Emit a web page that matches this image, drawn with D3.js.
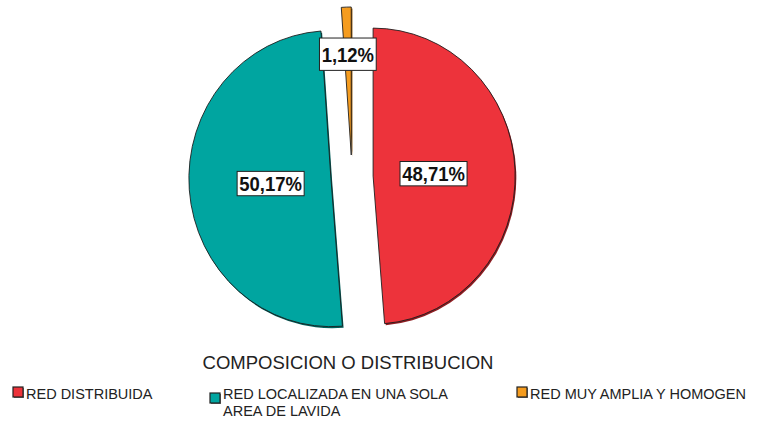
<!DOCTYPE html>
<html>
<head>
<meta charset="utf-8">
<script src="https://cdn.jsdelivr.net/npm/d3@7"></script>
<style>
  body { margin: 0; background: #fff; }
  svg { display: block; }
</style>
</head>
<body>
<div id="chart"></div>
<script>
(function () {

  // data
  const categories = ["RED DISTRIBUIDA", "RED LOCALIZADA EN UNA SOLA AREA DE LAVIDA", "RED MUY AMPLIA Y HOMOGEN"];
  const legendLines = [["RED DISTRIBUIDA"], ["RED LOCALIZADA EN UNA SOLA", "AREA DE LAVIDA"], ["RED MUY AMPLIA Y HOMOGEN"]];
  const percents = [48.71, 50.17, 1.12];
  const colors = ["#ED333B", "#00A5A0", "#F59C1F"];
  const shadows = ["#8E1C21", "#005E5A", "#8A5510"];
  const legendTitle = "COMPOSICION O DISTRIBUCION";

  const width = 757;
  const height = 421;
  const cx = 352, cy = 177;
  const radius = 148;
  const squeezeX = 0.96;
  const explode = 22;
  const condense = 0.88;

  const textFont = '"Liberation Sans", Arial, sans-serif';

  const data = categories.map((c, i) => ({label: c, value: percents[i], i: i}));

  const svg = d3.select("#chart").append("svg")
    .attr("width", width)
    .attr("height", height);

  const pie = d3.pie().value(d => d.value).sort(null);
  const arc = d3.arc().innerRadius(0).outerRadius(radius);
  const arcs = pie(data);

  const mid = d => (d.startAngle + d.endAngle) / 2;

  const pieG = svg.append("g")
    .attr("transform", "translate(" + cx + "," + cy + ") scale(" + squeezeX + ",1)");

  const slice = pieG.selectAll("g.slice")
    .data(arcs)
    .enter().append("g")
    .attr("class", "slice")
    .attr("transform", d => "translate(" + (Math.sin(mid(d)) * explode) + "," + (-Math.cos(mid(d)) * explode) + ")");

  // darker rim shadow
  slice.append("path")
    .attr("d", arc)
    .attr("transform", "translate(1.2,1.6)")
    .attr("fill", d => shadows[d.data.i]);

  slice.append("path")
    .attr("d", arc)
    .attr("fill", d => colors[d.data.i])
    .attr("stroke", "#1b1b1b")
    .attr("stroke-width", 0.9)
    .attr("stroke-linejoin", "round");

  // value labels
  const fmt = v => v.toFixed(2).replace(".", ",") + "%";
  const labelDist = d => explode + (d.data.value < 5 ? 101 : 63);

  const lab = svg.selectAll("g.lab")
    .data(arcs)
    .enter().append("g")
    .attr("class", "lab")
    .attr("transform", d => {
      const r = labelDist(d);
      return "translate(" + (cx + Math.sin(mid(d)) * r * squeezeX) + "," + (cy - Math.cos(mid(d)) * r) + ")";
    });

  const labText = lab.append("g")
    .attr("transform", "scale(" + condense + ",1)")
    .append("text")
    .attr("text-anchor", "middle")
    .attr("dy", "0.36em")
    .style("font-family", textFont)
    .style("font-weight", "bold")
    .style("font-size", "21px")
    .style("fill", "#111")
    .text(d => fmt(d.data.value));

  labText.each(function (d) {
    const bb = this.getBBox();
    const padY = d.data.value < 5 ? 4.5 : 0.5;
    const w = bb.width * condense;
    d3.select(this.parentNode.parentNode).insert("rect", "g")
      .attr("x", -w / 2 - 2)
      .attr("y", bb.y - padY)
      .attr("width", w + 4)
      .attr("height", bb.height + padY * 2)
      .attr("fill", "#fff")
      .attr("stroke", "#222")
      .attr("stroke-width", 1);
  });

  // legend
  svg.append("text")
    .attr("x", 348)
    .attr("y", 369)
    .attr("text-anchor", "middle")
    .style("font-family", textFont)
    .style("font-size", "18.5px")
    .style("fill", "#222")
    .text(legendTitle);

  const legendX = [13, 210, 517];
  const legend = svg.selectAll("g.legend")
    .data(data)
    .enter().append("g")
    .attr("class", "legend")
    .attr("transform", (d, i) => "translate(" + legendX[i] + ",387)");

  legend.append("rect")
    .attr("x", 1)
    .attr("y", d => legendLines[d.i].length > 1 ? 7 : 1)
    .attr("width", 10)
    .attr("height", 10)
    .attr("fill", "#777");

  legend.append("rect")
    .attr("x", 0)
    .attr("y", d => legendLines[d.i].length > 1 ? 6 : 0)
    .attr("width", 10)
    .attr("height", 10)
    .attr("fill", d => colors[d.i])
    .attr("stroke", "#222")
    .attr("stroke-width", 1.2);

  // each legend line is its own text element
  legend.selectAll("text")
    .data(d => legendLines[d.i])
    .enter().append("text")
    .attr("x", 13)
    .attr("y", (t, j) => 12 + j * 16.5)
    .style("font-family", textFont)
    .style("font-size", "14.5px")
    .style("fill", "#222")
    .text(t => t);

})();
</script>
</body>
</html>
